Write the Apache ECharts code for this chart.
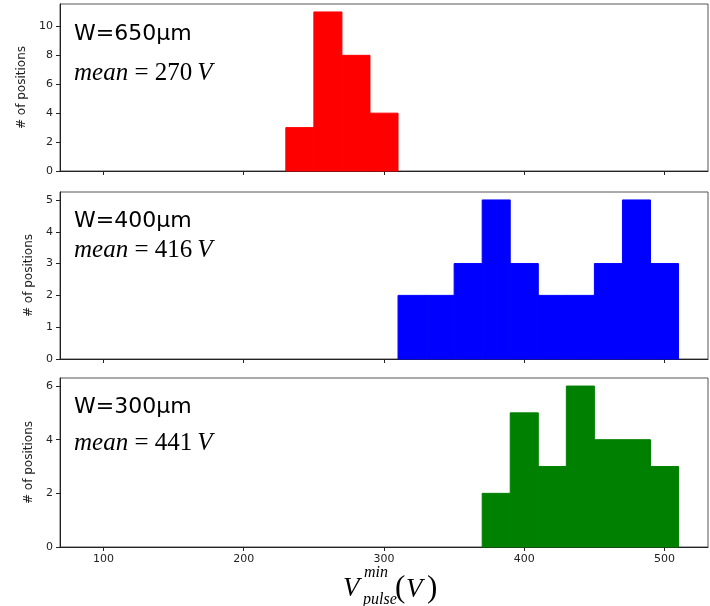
<!DOCTYPE html>
<html>
<head>
<meta charset="utf-8">
<script src="https://cdn.jsdelivr.net/npm/echarts@6/dist/echarts.min.js"></script>
<style>
  html, body { margin: 0; padding: 0; background: #fff; }
  #chart { width: 710px; height: 606px; }
</style>
</head>
<body>
<div id="chart"></div>
<script>
// histogram bins are 20 V wide, start values listed per panel
const binWidth = 20
const xTicks = [100, 200, 300, 400, 500]

const redStarts = [230, 250, 270, 290]
const redCounts = [3, 11, 8, 4]

const blueStarts = [310, 330, 350, 370, 390, 410, 430, 450, 470, 490]
const blueCounts = [2, 2, 3, 5, 3, 2, 2, 3, 5, 3]

const greenStarts = [370, 390, 410, 430, 450, 470, 490]
const greenCounts = [2, 5, 3, 6, 4, 4, 3]

const yTicksTop = [0, 2, 4, 6, 8, 10]
const yTicksMid = [0, 1, 2, 3, 4, 5]
const yTicksBot = [0, 2, 4, 6]

const panelLabels = ['W=650μm', 'W=400μm', 'W=300μm']
const panelMeans = ['270', '416', '441']

const xMin = 69
const xMax = 531

const toBins = (starts, counts) => starts.map((s, i) => [s, s + binWidth, counts[i]])

const chart = echarts.init(document.getElementById('chart'))

const grids = [
  { left: 60, right: 2, top: 4, height: 167 },
  { left: 60, right: 2, top: 192, height: 167 },
  { left: 60, right: 2, top: 378, height: 169 }
].map(g => ({ ...g, show: true, borderColor: '#555', borderWidth: 1 }))

const makeX = (idx, showLabels) => ({
  type: 'value',
  gridIndex: idx,
  min: xMin,
  max: xMax,
  splitLine: { show: false },
  axisLine: { show: true, onZero: false, lineStyle: { color: '#222', width: 1 } },
  axisTick: { show: true, inside: false, length: 4, customValues: xTicks, lineStyle: { color: '#222' } },
  axisLabel: { show: showLabels, customValues: xTicks, color: '#222', fontSize: 11, fontFamily: 'DejaVu Sans', margin: 7 }
})

const makeY = (idx, max, ticks) => ({
  type: 'value',
  gridIndex: idx,
  min: 0,
  max: max,
  name: '# of positions',
  nameLocation: 'middle',
  nameGap: 21,
  nameTextStyle: { fontSize: 12, color: '#222', fontFamily: 'DejaVu Sans' },
  splitLine: { show: false },
  axisLine: { show: true, lineStyle: { color: '#222', width: 1 } },
  axisTick: { show: true, inside: false, length: 4, customValues: ticks, lineStyle: { color: '#222' } },
  axisLabel: { customValues: ticks, color: '#222', fontSize: 11, fontFamily: 'DejaVu Sans', margin: 7 }
})

const renderBin = (params, api) => {
  const top = api.coord([api.value(0), api.value(2)])
  const base = api.coord([api.value(1), 0])
  const style = api.style()
  return {
    type: 'rect',
    shape: { x: top[0], y: top[1], width: base[0] - top[0], height: base[1] - top[1] },
    style: { ...style, stroke: style.fill, lineWidth: 1 }
  }
}

const makeSeries = (idx, bins, color) => ({
  type: 'custom',
  xAxisIndex: idx,
  yAxisIndex: idx,
  renderItem: renderBin,
  encode: { x: [0, 1], y: 2 },
  itemStyle: { color: color },
  data: bins,
  silent: true
})

const textLeft = 74
const wY = [36, 223, 409]
const meanY = [76, 253, 446]

const panelTexts = []
panelLabels.forEach((t, i) => {
  panelTexts.push({
    type: 'text', left: textLeft, top: wY[i] - 13,
    style: { text: t, font: '22px "DejaVu Sans"', fill: '#000' }
  })
  panelTexts.push({
    type: 'text', left: textLeft, top: meanY[i] - 15,
    style: {
      text: '{i|mean}{u| = ' + panelMeans[i] + '\u2009}{i|V}',
      rich: {
        i: { fontFamily: 'Liberation Serif', fontStyle: 'italic', fontSize: 25, fill: '#000' },
        u: { fontFamily: 'Liberation Serif', fontSize: 25, fill: '#000' }
      }
    }
  })
})

// x axis title V_pulse^min (V)
const xTitle = [
  { type: 'text', left: 343, top: 575, style: { text: 'V', font: 'italic 27px "Liberation Serif"', fill: '#000' } },
  { type: 'text', left: 364, top: 565, style: { text: 'min', font: 'italic 16px "Liberation Serif"', fill: '#000' } },
  { type: 'text', left: 363, top: 592, style: { text: 'pulse', font: 'italic 16px "Liberation Serif"', fill: '#000' } },
  { type: 'text', left: 395, top: 573, style: { text: '(', font: '31px "Liberation Serif"', fill: '#000' } },
  { type: 'text', left: 406, top: 576, style: { text: 'V', font: 'italic 27px "Liberation Serif"', fill: '#000' } },
  { type: 'text', left: 427, top: 573, style: { text: ')', font: '31px "Liberation Serif"', fill: '#000' } }
]

chart.setOption({
  animation: false,
  backgroundColor: '#fff',
  grid: grids,
  xAxis: [makeX(0, false), makeX(1, false), makeX(2, true)],
  yAxis: [
    makeY(0, 11.55, yTicksTop),
    makeY(1, 5.25, yTicksMid),
    makeY(2, 6.3, yTicksBot)
  ],
  series: [
    makeSeries(0, toBins(redStarts, redCounts), '#ff0000'),
    makeSeries(1, toBins(blueStarts, blueCounts), '#0000ff'),
    makeSeries(2, toBins(greenStarts, greenCounts), '#008000')
  ],
  graphic: panelTexts.concat(xTitle)
})
</script>
</body>
</html>
